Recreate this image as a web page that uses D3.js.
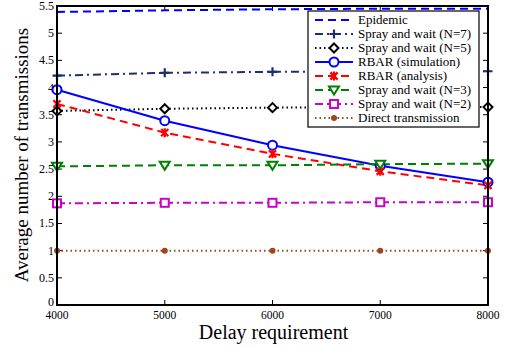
<!DOCTYPE html>
<html><head><meta charset="utf-8">
<script src="https://cdn.jsdelivr.net/npm/d3@7"></script>
<style>body{margin:0;background:#fff}svg{display:block}</style>
</head><body><svg id="c" width="508" height="349" font-family="'Liberation Serif', 'Times New Roman', 'DejaVu Serif', serif"></svg>
<script>
const delays = [4000, 5000, 6000, 7000, 8000];
const yTicks = [0, 0.5, 1, 1.5, 2, 2.5, 3, 3.5, 4, 4.5, 5, 5.5];
const xTicks = [4000, 5000, 6000, 7000, 8000];

const epidemic   = [5.39, 5.42, 5.44, 5.45, 5.45];
const spray7     = [4.22, 4.27, 4.29, 4.29, 4.30];
const spray5     = [3.57, 3.61, 3.63, 3.64, 3.64];
const rbarSim    = [3.96, 3.39, 2.94, 2.56, 2.26];
const rbarAna    = [3.70, 3.17, 2.78, 2.46, 2.20];
const spray3     = [2.55, 2.57, 2.57, 2.59, 2.60];
const spray2     = [1.87, 1.88, 1.88, 1.89, 1.89];
const direct     = [1.00, 1.00, 1.00, 1.00, 1.00];

const series = [
  {name: "Epidemic", values: epidemic, color: "#0000ff", dash: "8,5", marker: null},
  {name: "Spray and wait (N=7)", values: spray7, color: "#1c2f6e", dash: "8,4,2,4", marker: "plus"},
  {name: "Spray and wait (N=5)", values: spray5, color: "#000000", dash: "1.5,3", marker: "diamond"},
  {name: "RBAR (simulation)", values: rbarSim, color: "#0000ff", dash: null, marker: "circle"},
  {name: "RBAR (analysis)", values: rbarAna, color: "#ff0000", dash: "8,5", marker: "x"},
  {name: "Spray and wait (N=3)", values: spray3, color: "#008000", dash: "8,5", marker: "triangle"},
  {name: "Spray and wait (N=2)", values: spray2, color: "#cc00cc", dash: "8,4,2,4", marker: "square"},
  {name: "Direct transmission", values: direct, color: "#a0461a", dash: "1.5,3", marker: "dot"}
];

const svg = d3.select("#c");
const L = 57, R = 488, T = 6, B = 305;
const x = d3.scaleLinear().domain([4000, 8000]).range([L, R]);
const y = d3.scaleLinear().domain([0, 5.5]).range([B, T]);

// inner ticks on all four sides
const axes = svg.append("g").attr("stroke", "#000").attr("stroke-width", 1);
yTicks.forEach(t => {
  axes.append("line").attr("x1", L).attr("x2", L + 5).attr("y1", y(t)).attr("y2", y(t));
  axes.append("line").attr("x1", R).attr("x2", R - 5).attr("y1", y(t)).attr("y2", y(t));
});
xTicks.forEach(t => {
  axes.append("line").attr("x1", x(t)).attr("x2", x(t)).attr("y1", B).attr("y2", B - 5);
  axes.append("line").attr("x1", x(t)).attr("x2", x(t)).attr("y1", T).attr("y2", T + 5);
});

svg.append("g").selectAll("text").data(yTicks).join("text")
  .attr("x", L - 3).attr("y", d => d === 0 ? y(d) + 1 : y(d) + 4).attr("text-anchor", "end")
  .attr("font-size", 12).text(d => d3.format("")(d));
svg.append("g").selectAll("text").data(xTicks).join("text")
  .attr("x", d => x(d)).attr("y", B + 14).attr("text-anchor", "middle")
  .attr("font-size", 11.5).text(d => d);

svg.append("text").attr("x", (L + R) / 2 + 1).attr("y", 339).attr("text-anchor", "middle")
  .attr("font-size", 20).text("Delay requirement");
svg.append("text").attr("transform", "translate(28,155) rotate(-90)")
  .attr("text-anchor", "middle").attr("font-size", 19).text("Average number of transmissions");

function drawMarker(g, type, cx, cy, color) {
  const s = 4.5;
  if (type === "plus") {
    g.append("path").attr("d", `M${cx - s},${cy}H${cx + s}M${cx},${cy - s}V${cy + s}`)
      .attr("stroke", color).attr("stroke-width", 2.2).attr("fill", "none");
  } else if (type === "diamond") {
    g.append("path").attr("d", `M${cx},${cy - s}L${cx + s},${cy}L${cx},${cy + s}L${cx - s},${cy}Z`)
      .attr("stroke", color).attr("stroke-width", 2).attr("fill", "#fff");
  } else if (type === "circle") {
    g.append("circle").attr("cx", cx).attr("cy", cy).attr("r", s)
      .attr("stroke", color).attr("stroke-width", 2).attr("fill", "#fff");
  } else if (type === "x") {
    const k = 3.6;
    g.append("path").attr("d", `M${cx - k},${cy - k}L${cx + k},${cy + k}M${cx - k},${cy + k}L${cx + k},${cy - k}M${cx},${cy - s}V${cy + s}`)
      .attr("stroke", color).attr("stroke-width", 2.2).attr("fill", "none");
  } else if (type === "triangle") {
    g.append("path").attr("d", `M${cx - s - 0.5},${cy - s + 1}L${cx + s + 0.5},${cy - s + 1}L${cx},${cy + s}Z`)
      .attr("stroke", color).attr("stroke-width", 2).attr("fill", "#fff");
  } else if (type === "square") {
    g.append("rect").attr("x", cx - 4).attr("y", cy - 4).attr("width", 8).attr("height", 8)
      .attr("stroke", color).attr("stroke-width", 2).attr("fill", "#fff");
  } else if (type === "dot") {
    g.append("circle").attr("cx", cx).attr("cy", cy).attr("r", 3).attr("fill", color);
  }
}

const line = d3.line().x((d, i) => x(delays[i])).y(d => y(d));
const plot = svg.append("g");
series.forEach(s => {
  plot.append("path").datum(s.values).attr("d", line)
    .attr("fill", "none").attr("stroke", s.color).attr("stroke-width", 2)
    .attr("stroke-dasharray", s.dash);
});
series.forEach(s => {
  if (!s.marker) return;
  s.values.forEach((v, i) => drawMarker(plot, s.marker, x(delays[i]), y(v), s.color));
});

// frame
svg.append("rect").attr("x", L).attr("y", T).attr("width", R - L).attr("height", B - T)
  .attr("fill", "none").attr("stroke", "#000").attr("stroke-width", 2);

// legend
const lg = svg.append("g");
lg.append("rect").attr("x", 308).attr("y", 11).attr("width", 171).attr("height", 116)
  .attr("fill", "#fff").attr("stroke", "#000").attr("stroke-width", 1.2);
series.forEach((s, i) => {
  const ly = 20 + i * 14;
  lg.append("line").attr("x1", 315).attr("x2", 353).attr("y1", ly).attr("y2", ly)
    .attr("stroke", s.color).attr("stroke-width", 2).attr("stroke-dasharray", s.dash);
  if (s.marker) drawMarker(lg, s.marker, 334, ly, s.color);
  lg.append("text").attr("x", 358).attr("y", ly + 4).attr("font-size", 13).text(s.name);
});
</script></body></html>
